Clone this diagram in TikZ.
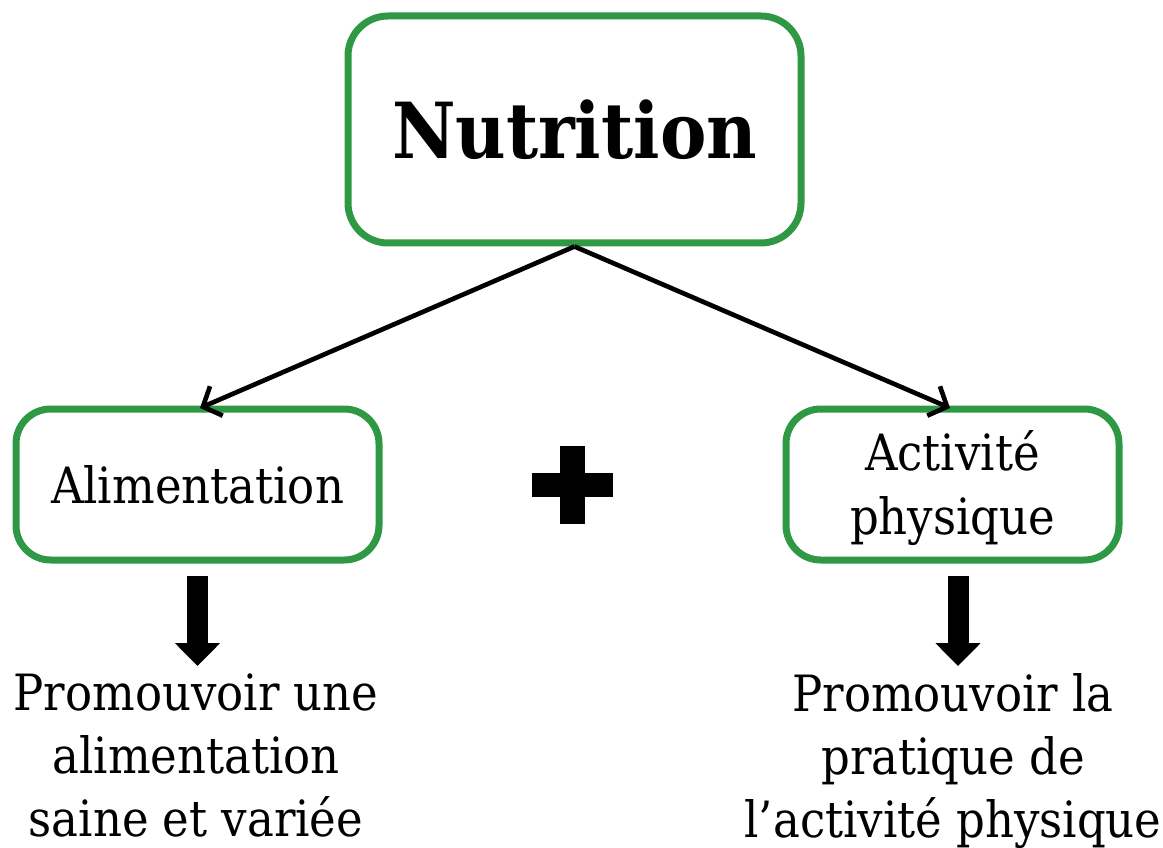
\documentclass[tikz,border=0pt]{standalone}
\usepackage{fontspec}
\setmainfont{DejaVu Serif Condensed}
\usetikzlibrary{arrows.meta}
\definecolor{boxgreen}{RGB}{47,152,68}
\begin{document}
\begin{tikzpicture}[x=0.75pt,y=-0.75pt,
  box/.style={draw=boxgreen,line width=5.25pt,rounded corners=26pt,fill=white,align=center,inner sep=0pt,font=\fontsize{37.5}{47.5}\selectfont},
  link/.style={draw=black,line width=3.5pt,-{Straight Barb[length=11pt,width=24pt,line width=3.5pt]}},
  bigarrow/.style={draw=black,line width=15.75pt,-{Triangle[width=33pt,length=17.25pt]}},
  goal/.style={align=center,inner sep=0pt,anchor=north,font=\fontsize{37.5}{47.25}\selectfont}]
\useasboundingbox (0,0) rectangle (1163,848);
\node[box,rounded corners=30pt,minimum width=339.75pt,minimum height=170.25pt,font=\fontsize{58}{70}\selectfont\bfseries] (nut) at (574.5,129.5) {Nutrition};
\node[box,minimum width=272.25pt,minimum height=113.25pt] (alim) at (197.5,484.5) {Alimentation};
\node[box,minimum width=249.75pt,minimum height=113.25pt] (act) at (952.5,484.5) {\begin{tabular}{@{}c@{}}\rule{0pt}{41pt}Activité\\physique\end{tabular}};
\node[goal] (promA) at (196,673) {Promouvoir une\\alimentation\\saine et variée};
\node[goal] (promB) at (953,673) {Promouvoir la\\pratique de\\l’activité physique};
\coordinate (tipA) at (197.5,666);
\coordinate (tipB) at (958,666);
\draw[link] (nut.south) -- (200,408) coordinate (endA);
\draw[link] (nut.south) -- (950,408) coordinate (endB);
\draw[bigarrow,shorten <=9pt] (alim.south) -- (tipA);
\draw[bigarrow,shorten <=9pt] (act.south -| tipB) -- (tipB);
\fill[black] (560,446) rectangle (585,524);
\fill[black] (532,473) rectangle (613,497);
\end{tikzpicture}
\end{document}
